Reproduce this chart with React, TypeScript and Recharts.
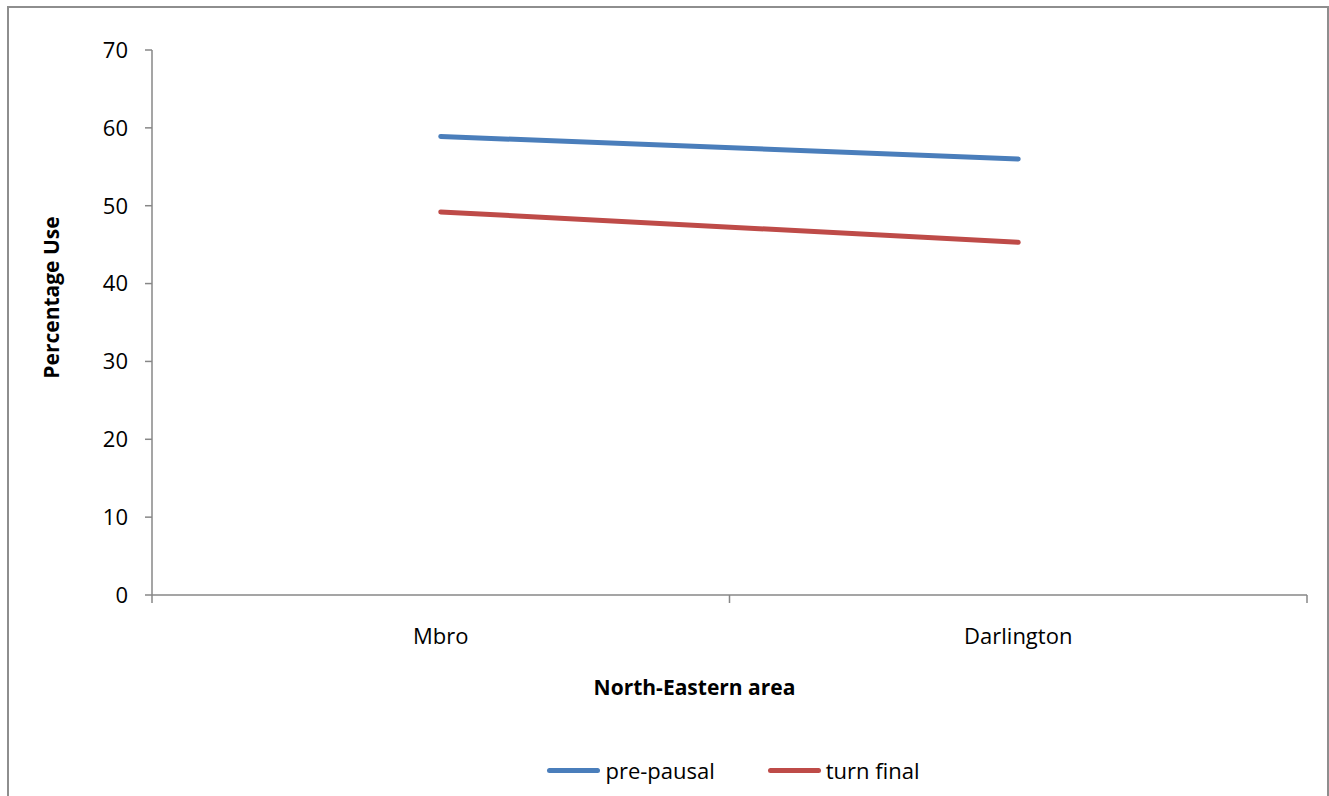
import { LineChart, Line, XAxis, YAxis, Legend } from 'recharts'

const categories = ['Mbro', 'Darlington']
const prePausal = [58.9, 56.0]
const turnFinal = [49.2, 45.3]
const yTicks = [0, 10, 20, 30, 40, 50, 60, 70]

const chartData = categories.map((area, i) => ({
  area,
  prePausal: prePausal[i],
  turnFinal: turnFinal[i],
}))

const W = 1329
const H = 796
const MARGIN = { top: 50, right: 22, left: 0, bottom: 11 }
const Y_AXIS_W = 152
const LEGEND_H = 30
const X_AXIS_H = H - 595 - LEGEND_H - MARGIN.bottom
const PLOT_W = W - MARGIN.left - MARGIN.right - Y_AXIS_W
const AXIS_COLOR = '#878787'
const FONT = '"Open Sans", sans-serif'

// ticks sit on the band edges, labels in the middle like the original
function CategoryTick(props: any) {
  const { x, y, payload, index } = props
  const band = PLOT_W / categories.length
  const axisY = y - 33
  return (
    <g>
      <line x1={x - band / 2} y1={axisY} x2={x - band / 2} y2={axisY + 8} stroke={AXIS_COLOR} strokeWidth={1.5} />
      {index === categories.length - 1 && (
        <line x1={x + band / 2} y1={axisY} x2={x + band / 2} y2={axisY + 8} stroke={AXIS_COLOR} strokeWidth={1.5} />
      )}
      <text x={x} y={y} dy="0.71em" textAnchor="middle" fill="#000" fontSize={22} fontFamily={FONT}>
        {payload.value}
      </text>
    </g>
  )
}

function YTitle(props: any) {
  const { viewBox } = props
  const cx = viewBox.x + 59
  const cy = viewBox.y + viewBox.height / 2 - 25
  return (
    <text
      x={cx}
      y={cy}
      transform={`rotate(-90, ${cx}, ${cy})`}
      textAnchor="middle"
      fontSize={21}
      fontWeight="bold"
      fontFamily={FONT}
      fill="#000"
    >
      Percentage Use
    </text>
  )
}

function LegendContent(props: any) {
  const { payload = [] } = props
  return (
    <div
      style={{
        display: 'flex',
        justifyContent: 'center',
        alignItems: 'center',
        gap: 53,
        height: LEGEND_H,
        paddingLeft: 8,
        boxSizing: 'border-box',
        fontSize: 22,
        fontFamily: FONT,
        color: '#000',
      }}
    >
      {payload.map((p: any) => (
        <div key={p.value} style={{ display: 'flex', alignItems: 'center' }}>
          <span
            style={{
              display: 'inline-block',
              width: 53,
              height: 5,
              borderRadius: 3,
              background: p.color,
              marginRight: 5,
            }}
          />
          <span>{p.value}</span>
        </div>
      ))}
    </div>
  )
}

export default function App() {
  return (
    <div style={{ position: 'absolute', left: 0, top: 0, width: W, height: H, overflow: 'hidden', background: '#fff', fontFamily: FONT }}>
      <div
        style={{
          position: 'absolute',
          left: 7,
          top: 6,
          width: W - 7,
          height: H + 10,
          boxSizing: 'border-box',
          border: '2px solid #8e8e8e',
        }}
      />
      <div style={{ position: 'absolute', left: 0, top: 0 }}>
        <LineChart width={W} height={H} data={chartData} margin={MARGIN}>
          <XAxis
            dataKey="area"
            scale="band"
            height={X_AXIS_H}
            axisLine={{ stroke: AXIS_COLOR, strokeWidth: 1.5 }}
            tickLine={false}
            tickSize={0}
            tickMargin={33}
            tick={<CategoryTick />}
            label={{
              value: 'North-Eastern area',
              position: 'insideBottom',
              offset: 60,
              dx: -35,
              fontSize: 21,
              fontWeight: 'bold',
              fontFamily: FONT,
              fill: '#000',
            }}
          />
          <YAxis
            width={Y_AXIS_W}
            domain={[0, 70]}
            ticks={yTicks}
            interval={0}
            axisLine={{ stroke: AXIS_COLOR, strokeWidth: 1.5 }}
            tickLine={{ stroke: AXIS_COLOR, strokeWidth: 1.5 }}
            tickSize={7}
            tickMargin={17}
            tick={{ fill: '#000', fontSize: 22, fontFamily: FONT }}
            label={<YTitle />}
          />
          <Legend
            verticalAlign="bottom"
            height={LEGEND_H}
            wrapperStyle={{ left: MARGIN.left + Y_AXIS_W, width: PLOT_W }}
            content={<LegendContent />}
          />
          <Line
            type="linear"
            dataKey="prePausal"
            name="pre-pausal"
            stroke="#4A7EBB"
            strokeWidth={5}
            strokeLinecap="round"
            dot={false}
            activeDot={false}
            isAnimationActive={false}
          />
          <Line
            type="linear"
            dataKey="turnFinal"
            name="turn final"
            stroke="#BE4B48"
            strokeWidth={5}
            strokeLinecap="round"
            dot={false}
            activeDot={false}
            isAnimationActive={false}
          />
        </LineChart>
      </div>
    </div>
  )
}
